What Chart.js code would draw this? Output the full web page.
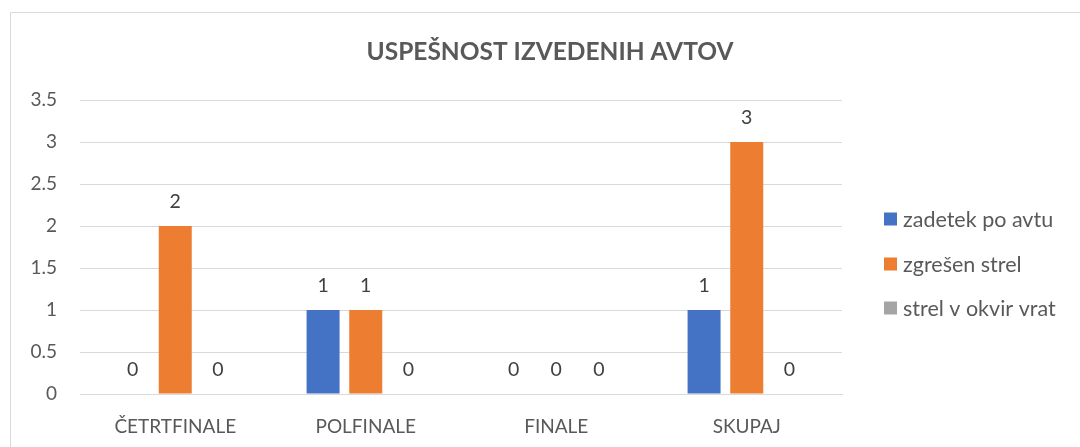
<!DOCTYPE html>
<html>
<head>
<meta charset="utf-8">
<script src="https://cdn.jsdelivr.net/npm/chart.js@4/dist/chart.umd.min.js"></script>
<style>
  html, body { margin: 0; padding: 0; background: #ffffff; }
  #wrap { width: 1080px; height: 447px; position: relative; }
</style>
</head>
<body>
<div id="wrap"><canvas id="c" width="1080" height="447"></canvas></div>
<script>
// Chart content
const chartTitle = 'USPEŠNOST IZVEDENIH AVTOV';
const categories = ['ČETRTFINALE', 'POLFINALE', 'FINALE', 'SKUPAJ'];
const seriesNames = ['zadetek po avtu', 'zgrešen strel', 'strel v okvir vrat'];
const zadetekPoAvtu = [0, 1, 0, 1];
const zgresenStrel = [2, 1, 0, 3];
const strelVOkvirVrat = [0, 0, 0, 0];
const yTicks = [0, 0.5, 1, 1.5, 2, 2.5, 3, 3.5];

const FONT = 'Lato, "Open Sans", sans-serif';
const TEXT = '#595959';
const colors = ['#4472C4', '#ED7D31', '#A5A5A5'];

// Outer frame of the chart object
const framePlugin = {
  id: 'frame',
  beforeDraw(chart) {
    const ctx = chart.ctx;
    ctx.save();
    ctx.fillStyle = '#ffffff';
    ctx.fillRect(0, 0, chart.width, chart.height);
    ctx.strokeStyle = '#D9D9D9';
    ctx.lineWidth = 1;
    ctx.beginPath();
    ctx.moveTo(10.5, chart.height + 2);
    ctx.lineTo(10.5, 12.5);
    ctx.lineTo(chart.width + 2, 12.5);
    ctx.stroke();
    ctx.restore();
  }
};

// Title, value labels and legend
const textPlugin = {
  id: 'texts',
  afterDatasetsDraw(chart) {
    const ctx = chart.ctx;
    ctx.save();
    // title
    ctx.fillStyle = TEXT;
    ctx.font = 'bold 24.5px ' + FONT;
    ctx.textAlign = 'center';
    ctx.textBaseline = 'middle';
    ctx.fillText(chartTitle, 550, 52);

    // value labels above bars
    ctx.font = '19.5px ' + FONT;
    ctx.fillStyle = '#404040';
    chart.data.datasets.forEach((ds, i) => {
      const meta = chart.getDatasetMeta(i);
      meta.data.forEach((bar, j) => {
        ctx.fillText(String(ds.data[j]), bar.x, bar.y - 24);
      });
    });

    // legend
    ctx.textAlign = 'left';
    ctx.font = '21.5px ' + FONT;
    const legendY = [219, 264, 308];
    chart.data.datasets.forEach((ds, i) => {
      ctx.fillStyle = ds.backgroundColor;
      ctx.fillRect(884, legendY[i] - 6.5, 13, 13);
      ctx.fillStyle = TEXT;
      ctx.fillText(ds.label, 903, legendY[i] + 1);
    });
    ctx.restore();
  }
};

const datasets = [zadetekPoAvtu, zgresenStrel, strelVOkvirVrat].map((vals, i) => ({
  label: seriesNames[i],
  data: vals,
  backgroundColor: colors[i],
  borderWidth: 0,
  categoryPercentage: 0.672,
  barPercentage: 0.773
}));

new Chart(document.getElementById('c'), {
  type: 'bar',
  data: { labels: categories, datasets },
  options: {
    responsive: false,
    animation: false,
    layout: { padding: { left: 0, right: 238, top: 100, bottom: 0 } },
    plugins: {
      legend: { display: false },
      title: { display: false },
      tooltip: { enabled: false }
    },
    scales: {
      x: {
        grid: { display: false, drawTicks: false },
        border: { display: true, color: '#D9D9D9', width: 1 },
        ticks: { color: TEXT, font: { family: FONT, size: 19 }, padding: 21, maxRotation: 0 },
        afterFit(scale) { scale.height = 53; }
      },
      y: {
        min: 0,
        max: 3.5,
        afterBuildTicks(scale) { scale.ticks = yTicks.map(v => ({ value: v })); },
        grid: { color: '#D9D9D9', lineWidth: 1, drawTicks: false },
        border: { display: false },
        ticks: {
          color: TEXT,
          font: { family: FONT, size: 19 },
          padding: 23,
          callback: (v) => String(v)
        },
        afterFit(scale) { scale.width = 80; }
      }
    }
  },
  plugins: [framePlugin, textPlugin]
});
</script>
</body>
</html>
